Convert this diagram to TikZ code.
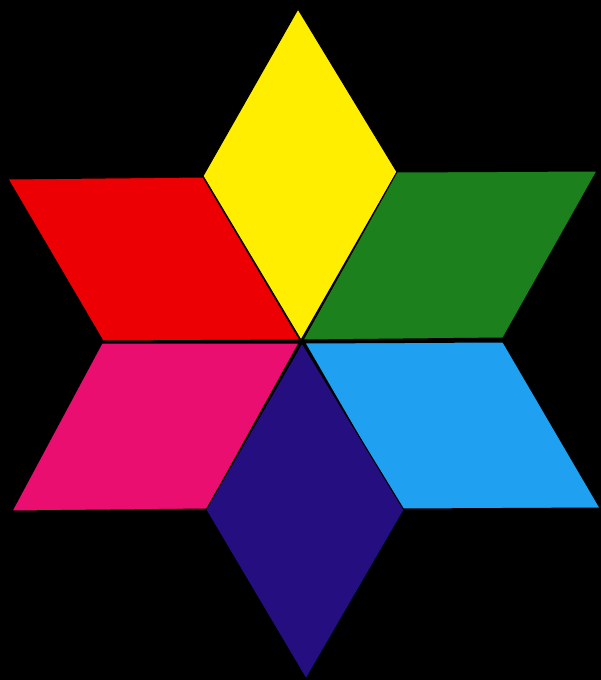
\documentclass[tikz,border=0pt]{standalone}
\definecolor{starred}{RGB}{236,0,4}
\definecolor{staryellow}{RGB}{255,238,0}
\definecolor{stargreen}{RGB}{28,128,28}
\definecolor{starpink}{RGB}{234,14,112}
\definecolor{starcyan}{RGB}{32,160,240}
\definecolor{starblue}{RGB}{36,14,128}
\tikzset{rhomb/.style={draw=black, line width=1pt, line join=miter}}
\begin{document}
\begin{tikzpicture}[x=1pt, y=-1pt]
\fill[black] (0,0) rectangle (601,680);
\draw[rhomb, fill=staryellow] (298,9) -- (203,176) -- (301,340) -- (397,172) -- cycle;
\draw[rhomb, fill=starred] (8,179) -- (203,177) -- (300,340) -- (103,341) -- cycle;
\draw[rhomb, fill=stargreen] (397,172) -- (597,171) -- (503,338) -- (303,340) -- cycle;
\draw[rhomb, fill=starpink] (102,343) -- (299,343) -- (207,509) -- (12,511) -- cycle;
\draw[rhomb, fill=starcyan] (305,343) -- (503,342) -- (600,508) -- (401,509) -- cycle;
\draw[rhomb, fill=starblue] (302,343) -- (404,510) -- (306,679) -- (206,510) -- cycle;
\end{tikzpicture}
\end{document}
